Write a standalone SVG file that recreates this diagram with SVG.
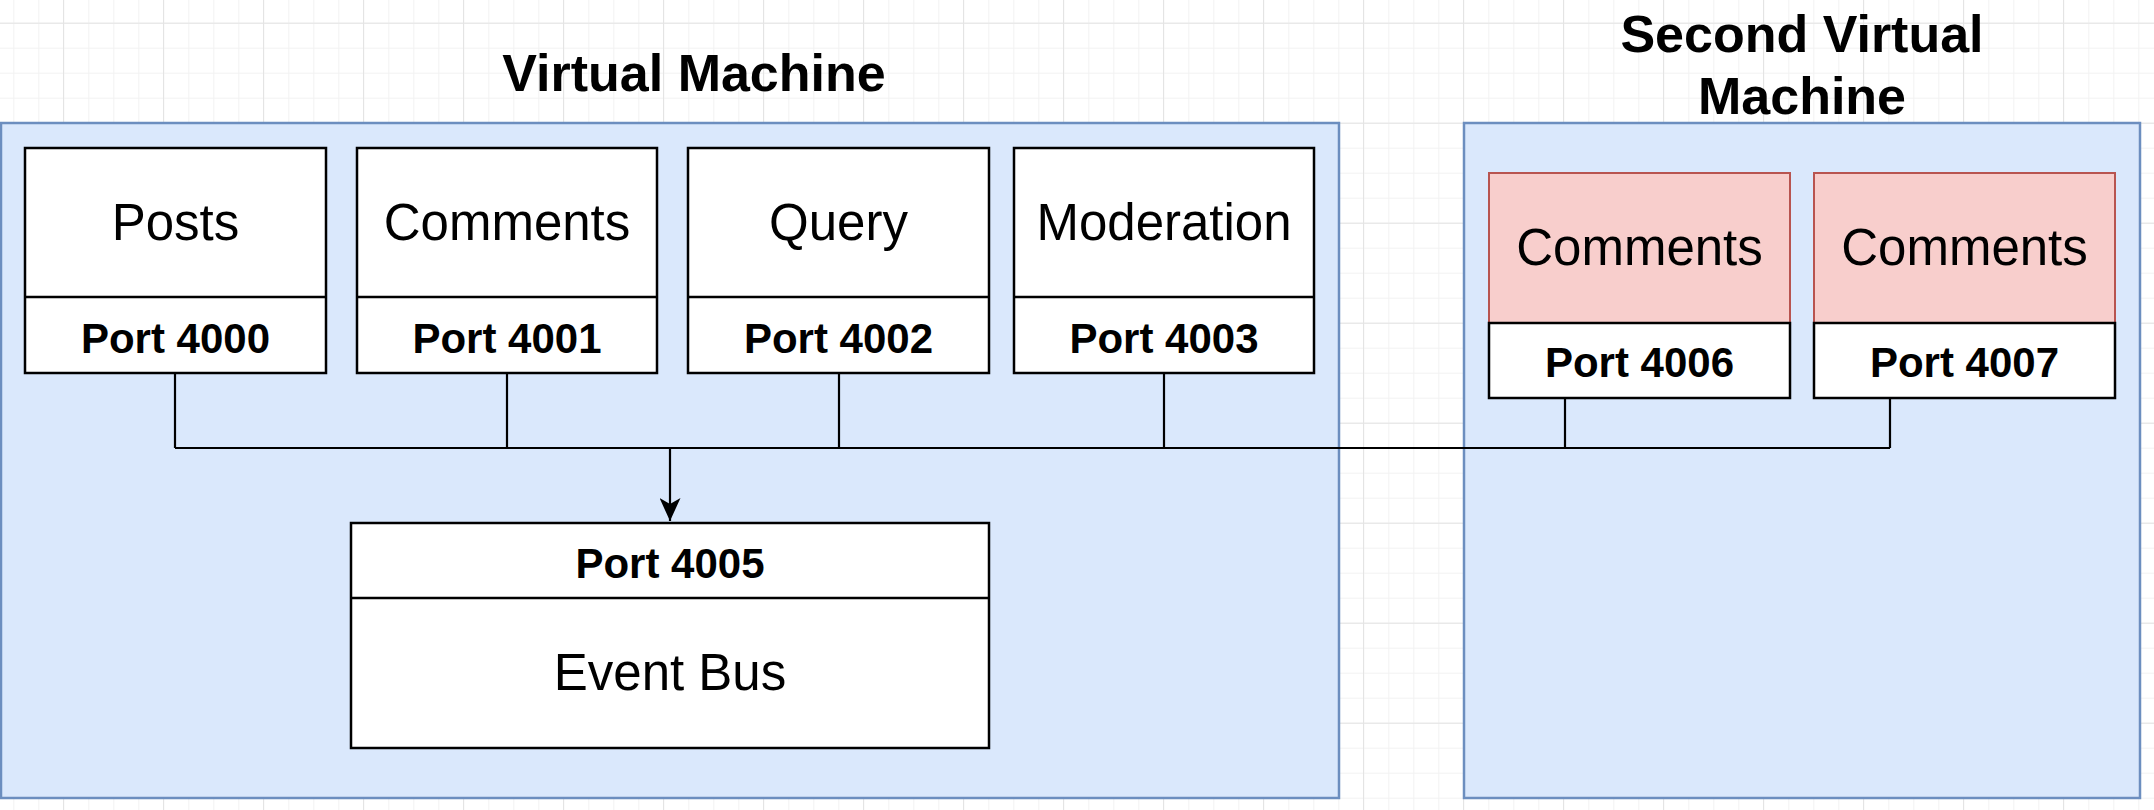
<svg xmlns="http://www.w3.org/2000/svg" width="2154" height="810" viewBox="0 0 2154 810">
<defs>
<pattern id="minor" patternUnits="userSpaceOnUse" x="13.3" y="22.7" width="25" height="25">
<path d="M0 0.5H25M0.5 0V25" fill="none" stroke="#f2f2f2" stroke-width="1"/>
</pattern>
<pattern id="major" patternUnits="userSpaceOnUse" x="63" y="22.7" width="100" height="100">
<path d="M0 0.5H100M0.5 0V100" fill="none" stroke="#e4e4e4" stroke-width="1"/>
</pattern>
<marker id="arrow" markerUnits="userSpaceOnUse" viewBox="0 0 23 21" refX="23" refY="10.5" markerWidth="23" markerHeight="21" orient="auto">
<path d="M0 0L23 10.5L0 21L6 10.5Z" fill="#000"/>
</marker>
</defs>
<style>
.vm{fill:#dae8fc;stroke:#6c8ebf;stroke-width:2.5}
.box{fill:#fff;stroke:#000;stroke-width:2.5}
.red{fill:#f8cecc;stroke:#b85450;stroke-width:2}
.div{stroke:#000;stroke-width:2.5}
.title{font-family:"Liberation Sans",Arial,sans-serif;font-weight:bold;font-size:52px;text-anchor:middle;fill:#000}
.name{font-family:"Liberation Sans",Arial,sans-serif;font-size:51px;text-anchor:middle;fill:#000}
.port{font-family:"Liberation Sans",Arial,sans-serif;font-weight:bold;font-size:42px;text-anchor:middle;fill:#000}
.conn{fill:none;stroke:#000;stroke-width:2.2}
</style>
<rect width="2154" height="810" fill="#fff"/>
<rect width="2154" height="810" fill="url(#minor)"/>
<rect width="2154" height="810" fill="url(#major)"/>

<g id="vm1">
<rect class="vm" x="1" y="123" width="1338" height="675"/>
<text class="title" x="694" y="91">Virtual Machine</text>
</g>
<g id="vm2">
<rect class="vm" x="1464" y="123" width="676" height="675"/>
<text class="title" x="1802" y="52">Second Virtual</text>
<text class="title" x="1802" y="114">Machine</text>
</g>

<g id="connectors">
<path class="conn" d="M175 373V448M507 373V448M839 373V448M1164 373V448M1565 398V448M1890 398V448M175 448H1890"/>
<path class="conn" d="M670 448V521" marker-end="url(#arrow)"/>
</g>

<g id="posts">
<rect class="box" x="25" y="148" width="301" height="225"/>
<line class="div" x1="25" y1="297" x2="326" y2="297"/>
<text class="name" x="175.5" y="240">Posts</text>
<text class="port" x="175.5" y="353">Port 4000</text>
</g>
<g id="comments">
<rect class="box" x="357" y="148" width="300" height="225"/>
<line class="div" x1="357" y1="297" x2="657" y2="297"/>
<text class="name" x="507" y="240">Comments</text>
<text class="port" x="507" y="353">Port 4001</text>
</g>
<g id="query">
<rect class="box" x="688" y="148" width="301" height="225"/>
<line class="div" x1="688" y1="297" x2="989" y2="297"/>
<text class="name" x="838.5" y="240">Query</text>
<text class="port" x="838.5" y="353">Port 4002</text>
</g>
<g id="moderation">
<rect class="box" x="1014" y="148" width="300" height="225"/>
<line class="div" x1="1014" y1="297" x2="1314" y2="297"/>
<text class="name" x="1164" y="240">Moderation</text>
<text class="port" x="1164" y="353">Port 4003</text>
</g>
<g id="eventbus">
<rect class="box" x="351" y="523" width="638" height="225"/>
<line class="div" x1="351" y1="598" x2="989" y2="598"/>
<text class="port" x="670" y="578">Port 4005</text>
<text class="name" x="670" y="690">Event Bus</text>
</g>
<g id="comments2">
<rect class="red" x="1489" y="173" width="301" height="150"/>
<rect class="box" x="1489" y="323" width="301" height="75"/>
<text class="name" x="1639.5" y="265">Comments</text>
<text class="port" x="1639.5" y="377">Port 4006</text>
</g>
<g id="comments3">
<rect class="red" x="1814" y="173" width="301" height="150"/>
<rect class="box" x="1814" y="323" width="301" height="75"/>
<text class="name" x="1964.5" y="265">Comments</text>
<text class="port" x="1964.5" y="377">Port 4007</text>
</g>
</svg>
